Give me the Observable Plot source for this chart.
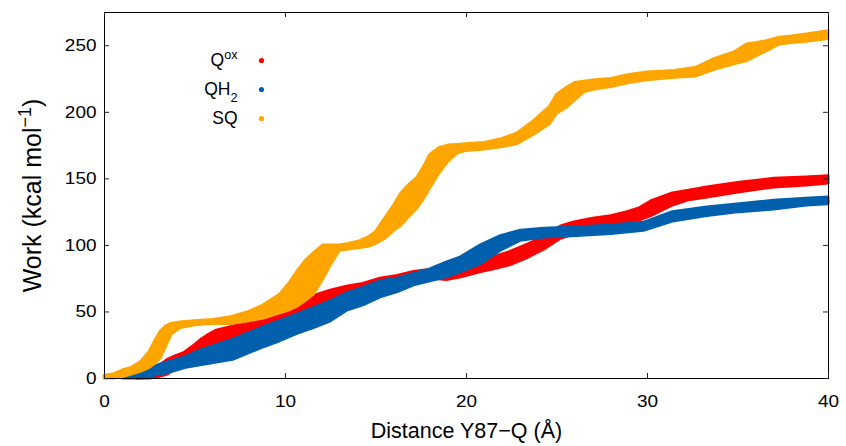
<!DOCTYPE html>
<html><head><meta charset="utf-8">
<script src="https://cdn.jsdelivr.net/npm/d3@7"></script>
<script src="https://cdn.jsdelivr.net/npm/@observablehq/plot@0.6"></script>
<style>body{margin:0;background:#fff}</style>
</head><body><div id="chart"></div>
<script>
// ---- data ----
const seriesNames = ["Q^{ox}", "QH_{2}", "SQ"];
const seriesColors = ["#ff0000", "#0060ad", "#ffa500"];
const xTicks = [0, 10, 20, 30, 40];
const yTicks = [0, 50, 100, 150, 200, 250];
const xLabel = "Distance Y87\u2212Q (\u00c5)";
const yLabel = "Work (kcal mol^{\u22121})";

// Q^ox (red): x, lower and upper edge of the scatter band
const qoxX  = [1.8, 2.5, 3.0, 3.5, 4.0, 4.4, 5.0, 5.3, 5.8, 6.2, 7.1, 8.0, 8.8, 9.7, 10.65, 11.6, 12.5, 13.4, 14.3, 15.25, 16.2, 17.1, 18.2, 18.9, 19.7, 20.8, 21.5, 22.4, 23.3, 24.3, 25.2, 25.9, 27.0, 28.0, 28.9, 29.6, 30.2, 31.4, 32.3, 33.3, 35.1, 37.0, 38.8, 40.0];
const qoxLo = [0, 0, 1, 3, 8, 12, 16, 17, 20, 24, 28, 32, 37, 41, 46, 51, 55, 59, 62, 67, 70, 72, 75, 74, 76, 80, 82, 85, 90, 97, 105, 108, 113, 115, 117, 119, 122, 130, 134, 136, 140, 143.5, 145, 146.5];
const qoxHi = [1, 5, 9, 14, 17, 19, 25, 28.5, 33, 36, 39, 43, 48, 52, 57, 62, 66, 69, 71, 75, 77, 80, 82, 80, 84, 88, 91, 95, 100, 106, 114, 117, 120, 122, 125, 128, 133, 139, 141, 143.5, 147, 150, 151, 152];

// QH2 (blue)
const qh2X  = [1.0, 1.5, 2.0, 2.5, 3.0, 3.5, 4.0, 4.5, 5.3, 6.2, 7.1, 8.0, 8.8, 9.7, 10.65, 11.6, 12.5, 13.4, 14.3, 15.25, 16.2, 17.1, 18.0, 18.9, 19.7, 20.8, 21.9, 23.0, 24.3, 26.1, 28.0, 29.8, 31.4, 33.3, 35.1, 37.0, 38.8, 40.0];
const qh2Lo = [0, 0, 0, 1, 3, 4, 6, 8, 10, 12, 14, 19, 23.5, 28, 33.5, 38, 43, 51, 55, 61, 65, 70, 73, 76, 80, 86, 96, 103.5, 106, 107, 108.5, 111, 118, 122, 125, 127, 130, 131];
const qh2Hi = [1, 3, 5, 7, 10, 12, 14, 16, 21, 25, 29, 34, 38.5, 43, 48, 53, 58, 64, 68, 73, 75, 78.5, 82, 87, 91, 100, 107, 111, 112.5, 113.5, 115, 117, 125, 128.5, 131, 133.5, 135, 136];

// SQ (orange)
const sqX  = [0, 0.5, 1.0, 1.5, 2.0, 2.5, 2.8, 3.1, 3.4, 3.7, 4.2, 5.0, 6.0, 7.0, 8.0, 8.8, 9.7, 10.2, 10.65, 11.1, 11.56, 12.1, 12.5, 13.0, 13.5, 14.1, 14.6, 15.0, 15.5, 16.0, 16.4, 16.8, 17.3, 17.7, 18.0, 18.5, 19.0, 19.5, 20.0, 21.0, 22.0, 22.8, 23.7, 24.6, 25.0, 25.5, 26.0, 26.5, 27.0, 28.0, 29.0, 30.0, 31.5, 32.7, 33.7, 34.8, 35.5, 36.0, 36.6, 37.3, 38.0, 38.8, 40.0];
const sqLo = [0, 0, 1, 3, 5, 8, 11, 15, 24, 33, 38, 40, 41, 41, 43, 45, 49, 51, 54, 58, 63, 75, 85, 96, 97, 98, 99, 101, 105, 111, 115, 121, 128, 136, 143, 154, 163, 169, 171, 172, 174, 176, 183, 191, 199, 203, 209, 215, 217, 219, 222, 224, 226, 227, 232, 236, 238.5, 242, 246, 251, 252, 253, 255];
const sqHi = [2, 3, 6, 8, 12, 20, 28, 35, 39, 41, 42, 43, 44, 46, 50, 55, 63, 71, 80, 88, 94, 100, 100, 100, 101, 103, 106, 110, 120, 130, 139, 145, 151, 160, 168, 173, 175, 175.5, 176, 177, 180, 184, 193, 204, 213, 218, 222, 223, 224, 225, 228, 230, 231, 233.5, 240, 245, 251, 252, 253.5, 256, 257, 258.5, 261];

// ---- build tables ----
function band(xs, lo, hi) { return xs.map((x, i) => ({x, lo: lo[i], hi: hi[i]})); }
const bands = [band(qoxX, qoxLo, qoxHi), band(qh2X, qh2Lo, qh2Hi), band(sqX, sqLo, sqHi)];

const W = 846, H = 446, mL = 104, mR = 18, mT = 12, mB = 68;
const fw = W - mL - mR, fh = H - mT - mB;
const xDom = [0, 40], yDom = [0, 275];
const font = "'Liberation Sans', Arial, Helvetica, sans-serif";
const tick = 5;

// legend rows placed in frame coordinates
const legend = seriesNames.map((name, i) => {
  const py = 48 + 29 * i;
  return {name, color: seriesColors[i],
    y: yDom[1] - (py / fh) * (yDom[1] - yDom[0]),
    xt: (133 / fw) * xDom[1], xd: (157 / fw) * xDom[1]};
});

const marks = [];
bands.forEach((b, i) => {
  marks.push(Plot.areaY(b, {x: "x", y1: "lo", y2: "hi", fill: seriesColors[i], stroke: seriesColors[i], strokeWidth: 3, strokeLinejoin: "round", curve: "linear"}));
});
marks.push(
  Plot.frame({stroke: "black", strokeWidth: 1}),
  Plot.ruleX(xTicks, {insetTop: fh - tick, stroke: "#222"}),
  Plot.ruleX(xTicks, {insetBottom: fh - tick, stroke: "#222"}),
  Plot.ruleY(yTicks, {insetRight: fw - tick, stroke: "#222"}),
  Plot.ruleY(yTicks, {insetLeft: fw - tick, stroke: "#222"}),
  Plot.axisX({ticks: xTicks, tickSize: 0, tickPadding: 17, label: null}),
  Plot.axisY({ticks: yTicks, tickSize: 0, tickPadding: 8, label: null}),
  Plot.text([xLabel], {frameAnchor: "bottom", dy: 59, lineAnchor: "bottom", textAnchor: "middle", fontSize: 21.5, ariaLabel: "xlab"}),
  Plot.text([yLabel], {frameAnchor: "left", rotate: -90, dx: -64, lineAnchor: "bottom", textAnchor: "middle", fontSize: 25, ariaLabel: "ylab"}),
  Plot.text(legend, {x: "xt", y: "y", text: "name", textAnchor: "end", lineAnchor: "middle", fontSize: 17.5, ariaLabel: "leg"}),
  Plot.dot(legend, {x: "xd", y: "y", fill: "color", r: 2.6, stroke: null})
);

const svg = Plot.plot({
  width: W, height: H,
  marginLeft: mL, marginRight: mR, marginTop: mT, marginBottom: mB,
  x: {domain: xDom}, y: {domain: yDom},
  style: {fontFamily: font, fontSize: "16.5px", color: "black", background: "white"},
  marks
});

// render ^{..} / _{..} as real super/subscripts
function richText(root) {
  const ns = "http://www.w3.org/2000/svg";
  root.querySelectorAll("text").forEach(t => {
    const s = t.textContent;
    if (!/[\^_]\{/.test(s)) return;
    t.textContent = "";
    const re = /([\^_])\{([^}]*)\}/g;
    let last = 0, m;
    const add = (txt, shift) => {
      const ts = document.createElementNS(ns, "tspan");
      if (shift) { ts.setAttribute("baseline-shift", shift); ts.setAttribute("font-size", "72%"); }
      ts.textContent = txt; t.appendChild(ts);
    };
    while ((m = re.exec(s))) {
      if (m.index > last) add(s.slice(last, m.index));
      add(m[2], m[1] === "^" ? "super" : "sub");
      last = re.lastIndex;
    }
    if (last < s.length) add(s.slice(last));
  });
}
// widen glyphs horizontally (about each text's own anchor) to match the reference's wide lettering
function stretch(root, label, sx) {
  root.querySelectorAll(`[aria-label="${label}"] text`).forEach(t => {
    const xs = t.getAttribute("x");
    const X = xs != null && /^-?[\d.]+$/.test(xs.trim()) ? +xs : 0;
    const tr = t.getAttribute("transform") || "";
    t.setAttribute("transform", `${tr} translate(${X},0) scale(${sx},1) translate(${-X},0)`.trim());
  });
}
richText(svg);
stretch(svg, "x-axis tick label", 1.15);
stretch(svg, "y-axis tick label", 1.15);
stretch(svg, "xlab", 1.13);
stretch(svg, "leg", 1.08);
document.getElementById("chart").appendChild(svg);
</script>
</body></html>
